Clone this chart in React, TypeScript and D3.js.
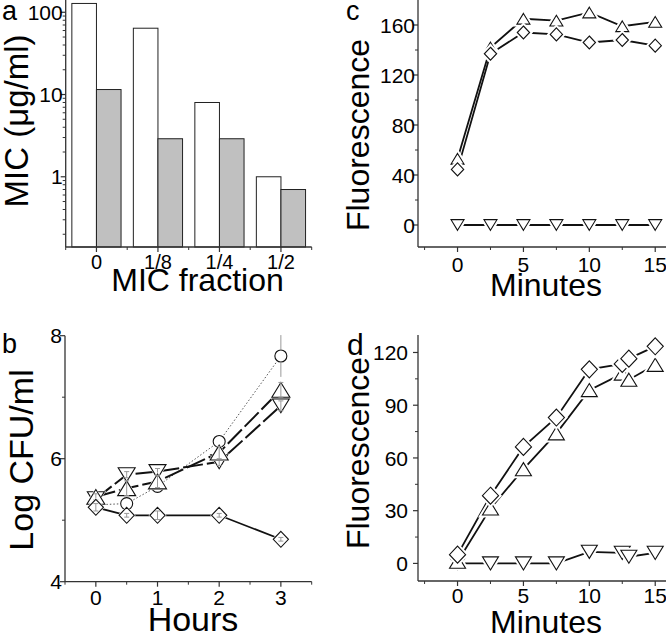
import React from "react";
import * as d3 from "d3";

// ---------- Panel a: MIC bars (log scale) ----------
const aCategories = ["0", "1/8", "1/4", "1/2"];
const aWhite = [128, 64, 8, 1];
const aGray = [11.5, 2.9, 2.9, 0.7];
const aYTicks = [1, 10, 100];

// ---------- Panel b: Log CFU/ml vs hours ----------
const bHours = [0, 0.5, 1, 2, 3];
const bCircle = [5.25, 5.27, 5.55, 6.28, 7.67];
const bCircleErr = [0.04, 0.08, 0.05, 0.05, 0.34];
const bTriUp = [5.38, 5.52, 5.63, 6.1, 7.12];
const bTriUpErr = [0.05, 0.12, 0.1, 0.1, 0.12];
const bTriDown = [5.35, 5.74, 5.79, 5.95, 6.86];
const bTriDownErr = [0.03, 0.05, 0.05, 0.06, 0.08];
const bDiamond = [5.21, 5.08, 5.08, 5.08, 4.69];
const bDiamondErr = [0.06, 0.03, 0.07, 0.03, 0.03];
const bYTicks = [4, 6, 8];
const bXTicks = [0, 1, 2, 3];

// ---------- Panel c: Fluorescence vs minutes ----------
const cMinutes = [0, 2.5, 5, 7.5, 10, 12.5, 15];
const cTriUp = [53, 142, 165, 163.5, 170, 159, 162.5];
const cDiamond = [44.5, 137, 154, 152.5, 146, 148, 143.5];
const cTriDown = [0, 0, 0, 0, 0, 0, 0];
const cYTicks = [0, 40, 80, 120, 160];

// ---------- Panel d: Fluorescence vs minutes ----------
const dMinutes = [0, 2.5, 5, 7.5, 10, 12.5, 13, 15];
const dDiamond = [5, 38.5, 66.3, 83, 110.4, 113.5, 116.5, 123.5];
const dTriUp = [1, 31.3, 53.6, 74, 98.6, 108, 104.5, 113];
const dTriDown = [0, 0, 0, 0, 6.6, 6, 3.8, 6];
const dYTicks = [0, 30, 60, 90, 120];

const minuteTicks = [0, 5, 10, 15];

const FONT = "'Liberation Sans', Arial, Helvetica, sans-serif";
const AXIS = "#333";

type Shape = "up" | "down" | "diamond" | "circle";

function markerPath(shape: Shape, s: number): string {
  const h = s * 0.82;
  if (shape === "up") return `M0,${-h / 2}L${s / 2},${h / 2}L${-s / 2},${h / 2}Z`;
  if (shape === "down") return `M0,${h / 2}L${s / 2},${-h / 2}L${-s / 2},${-h / 2}Z`;
  if (shape === "diamond") {
    const w = s * 0.95;
    return `M0,${-s / 2}L${w / 2},0L0,${s / 2}L${-w / 2},0Z`;
  }
  const r = s / 2;
  return `M${r},0A${r},${r} 0 1,1 ${-r},0A${r},${r} 0 1,1 ${r},0Z`;
}

function Markers({ xs, ys, x, y, shape, size, halo, k }: any) {
  return (
    <g>
      {xs.map((xv: number, i: number) => (
        <g key={`${k}-${i}`} transform={`translate(${x(xv)},${y(ys[i])})`}>
          {halo > 0 && <path d={markerPath(shape, size)} fill="white" stroke="white" strokeWidth={halo} />}
          <path d={markerPath(shape, size)} fill="white" stroke="#111" strokeWidth={1.1} />
        </g>
      ))}
    </g>
  );
}

function Line({ xs, ys, x, y, width, dash, color }: any) {
  const gen = d3
    .line<number>()
    .x((_, i) => x(xs[i]))
    .y((v) => y(v));
  return <path d={gen(ys) || ""} fill="none" stroke={color || "#111"} strokeWidth={width} strokeDasharray={dash} />;
}

function YAxis({ y, x0, y0, y1, major, minor, fmt, labelGap }: any) {
  return (
    <g>
      <line x1={x0} x2={x0} y1={y0} y2={y1} stroke={AXIS} strokeWidth={1.3} />
      {minor.map((t: number, i: number) => (
        <line key={"mi" + i} x1={x0 - 3} x2={x0} y1={y(t)} y2={y(t)} stroke={AXIS} strokeWidth={1} />
      ))}
      {major.map((t: number, i: number) => (
        <g key={"ma" + i}>
          <line x1={x0 - 5} x2={x0} y1={y(t)} y2={y(t)} stroke={AXIS} strokeWidth={1.2} />
          <text x={x0 - labelGap} y={y(t)} dy="0.36em" textAnchor="end" fontSize={21} fontFamily={FONT}>
            {fmt(t)}
          </text>
        </g>
      ))}
    </g>
  );
}

function XAxis({ x, y0, x0, x1, major, minor, labels, labelDy, fontSize }: any) {
  return (
    <g>
      <line x1={x0} x2={x1} y1={y0} y2={y0} stroke={AXIS} strokeWidth={1.3} />
      {minor.map((t: number, i: number) => (
        <line key={"mi" + i} x1={x(t)} x2={x(t)} y1={y0} y2={y0 + 3} stroke={AXIS} strokeWidth={1} />
      ))}
      {major.map((t: number, i: number) => (
        <g key={"ma" + i}>
          <line x1={x(t)} x2={x(t)} y1={y0} y2={y0 + 5} stroke={AXIS} strokeWidth={1.2} />
          <text x={x(t)} y={y0 + labelDy} textAnchor="middle" fontSize={fontSize || 21} fontFamily={FONT}>
            {labels[i]}
          </text>
        </g>
      ))}
    </g>
  );
}

function ErrorBars({ xs, ys, errs, x, y, cap }: any) {
  return (
    <g stroke="#999" strokeWidth={1}>
      {xs.map((xv: number, i: number) => {
        const cx = x(xv);
        const t = y(ys[i] + errs[i]);
        const b = y(ys[i] - errs[i]);
        return (
          <g key={i}>
            <line x1={cx} x2={cx} y1={t} y2={b} />
            <line x1={cx - cap} x2={cx + cap} y1={t} y2={t} />
            <line x1={cx - cap} x2={cx + cap} y1={b} y2={b} />
          </g>
        );
      })}
    </g>
  );
}

function PanelA() {
  const x = d3.scaleLinear().domain([0.5, 4.5]).range([65.7, 311.7]);
  const y = d3.scaleLog().domain([0.14, 141]).range([247, 0]);
  const minor: number[] = [];
  [0.1, 1, 10].forEach((dec) => {
    for (let m = 2; m <= 9; m++) {
      const v = m * dec;
      if (v >= 0.14 && v <= 141) minor.push(v);
    }
  });
  const bw = 0.4;
  return (
    <g>
      {aWhite.map((v, i) => (
        <rect
          key={"w" + i}
          x={x(i + 1 - bw)}
          y={y(v)}
          width={x(i + 1) - x(i + 1 - bw)}
          height={y(0.14) - y(v)}
          fill="white"
          stroke="#222"
          strokeWidth={1}
        />
      ))}
      {aGray.map((v, i) => (
        <rect
          key={"g" + i}
          x={x(i + 1)}
          y={y(v)}
          width={x(i + 1 + bw) - x(i + 1)}
          height={y(0.14) - y(v)}
          fill="#c0c0c0"
          stroke="#222"
          strokeWidth={1}
        />
      ))}
      <YAxis y={y} x0={65.7} y0={0} y1={247} major={aYTicks} minor={minor} fmt={(t: number) => String(t)} labelGap={3} />
      <XAxis
        x={x}
        y0={247}
        x0={65.7}
        x1={311.7}
        major={[1, 2, 3, 4]}
        minor={[0.5, 1.5, 2.5, 3.5, 4.5]}
        labels={aCategories}
        labelDy={22}
        fontSize={20}
      />
      <text x={2} y={20} fontSize={27} fontFamily={FONT}>a</text>
      <text transform="translate(28,121) rotate(-90)" textAnchor="middle" fontSize={33} fontFamily={FONT}>
        MIC (μg/ml)
      </text>
      <text x={197.5} y={291} textAnchor="middle" fontSize={32} fontFamily={FONT}>
        MIC fraction
      </text>
    </g>
  );
}

function PanelB() {
  const x = d3.scaleLinear().domain([-0.5, 3.5]).range([65, 311.7]);
  const y = d3.scaleLinear().domain([4, 8]).range([581.7, 335.7]);
  return (
    <g>
      <YAxis y={y} x0={65} y0={335.7} y1={581.7} major={bYTicks} minor={[5, 7]} fmt={(t: number) => String(t)} labelGap={3} />
      <XAxis
        x={x}
        y0={581.7}
        x0={65}
        x1={311.7}
        major={bXTicks}
        minor={[-0.5, 0.5, 1.5, 2.5, 3.5]}
        labels={bXTicks.map(String)}
        labelDy={23}
      />
      <Line xs={bHours} ys={bCircle} x={x} y={y} width={1} dash="1.5,2" color="#555" />
      <Line xs={bHours} ys={bTriDown} x={x} y={y} width={2} dash="20,4" />
      <Line xs={bHours} ys={bTriUp} x={x} y={y} width={2} dash="20,4" />
      <Line xs={bHours} ys={bDiamond} x={x} y={y} width={1.8} />
      <ErrorBars xs={bHours} ys={bCircle} errs={bCircleErr} x={x} y={y} cap={0} />
      <Markers xs={bHours} ys={bTriDown} x={x} y={y} shape="down" size={17} halo={2} k="bd" />
      <ErrorBars xs={bHours} ys={bTriDown} errs={bTriDownErr} x={x} y={y} cap={2.5} />
      <Markers xs={bHours} ys={bCircle} x={x} y={y} shape="circle" size={12} halo={2} k="bc" />
      <Markers xs={bHours} ys={bTriUp} x={x} y={y} shape="up" size={18} halo={2} k="bu" />
      <ErrorBars xs={bHours} ys={bTriUp} errs={bTriUpErr} x={x} y={y} cap={2.5} />
      <Markers xs={bHours} ys={bDiamond} x={x} y={y} shape="diamond" size={16} halo={2} k="bdi" />
      <ErrorBars xs={bHours} ys={bDiamond} errs={bDiamondErr} x={x} y={y} cap={2.5} />
      <text x={2} y={353} fontSize={27} fontFamily={FONT}>b</text>
      <text transform="translate(33,460) rotate(-90)" textAnchor="middle" fontSize={34} fontFamily={FONT}>
        Log CFU/ml
      </text>
      <text x={193} y={631} textAnchor="middle" fontSize={34} fontFamily={FONT}>
        Hours
      </text>
    </g>
  );
}

function PanelC() {
  const x = d3.scaleLinear().domain([-3, 16]).range([418, 668.4]);
  const y = d3.scaleLinear().domain([-17.6, 180]).range([247, 0]);
  return (
    <g>
      <YAxis y={y} x0={418} y0={0} y1={247} major={cYTicks} minor={[20, 60, 100, 140]} fmt={(t: number) => String(t)} labelGap={3} />
      <XAxis
        x={x}
        y0={247}
        x0={418}
        x1={666}
        major={minuteTicks}
        minor={[-2.5, 2.5, 7.5, 12.5]}
        labels={minuteTicks.map(String)}
        labelDy={25}
      />
      <Line xs={cMinutes} ys={cTriDown} x={x} y={y} width={1.8} />
      <Line xs={cMinutes} ys={cTriUp} x={x} y={y} width={1.8} />
      <Line xs={cMinutes} ys={cDiamond} x={x} y={y} width={1.8} />
      <Markers xs={cMinutes} ys={cTriDown} x={x} y={y} shape="down" size={13} halo={5} k="cd" />
      <Markers xs={cMinutes} ys={cTriUp} x={x} y={y} shape="up" size={13} halo={5} k="cu" />
      <Markers xs={cMinutes} ys={cDiamond} x={x} y={y} shape="diamond" size={13} halo={5} k="cdi" />
      <text x={346} y={20} fontSize={27} fontFamily={FONT}>c</text>
      <text transform="translate(369,135) rotate(-90)" textAnchor="middle" fontSize={32} fontFamily={FONT}>
        Fluorescence
      </text>
      <text x={546} y={296} textAnchor="middle" fontSize={32} fontFamily={FONT}>
        Minutes
      </text>
    </g>
  );
}

function PanelD() {
  const x = d3.scaleLinear().domain([-3, 16]).range([418, 668.4]);
  const y = d3.scaleLinear().domain([-10, 130]).range([581, 334.9]);
  return (
    <g>
      <YAxis y={y} x0={418} y0={334.9} y1={581} major={dYTicks} minor={[15, 45, 75, 105]} fmt={(t: number) => String(t)} labelGap={10} />
      <XAxis
        x={x}
        y0={581}
        x0={418}
        x1={666}
        major={minuteTicks}
        minor={[-2.5, 2.5, 7.5, 12.5]}
        labels={minuteTicks.map(String)}
        labelDy={22}
      />
      <Line xs={dMinutes} ys={dTriDown} x={x} y={y} width={1.8} />
      <Line xs={dMinutes} ys={dTriUp} x={x} y={y} width={1.8} />
      <Line xs={dMinutes} ys={dDiamond} x={x} y={y} width={1.8} />
      <Markers xs={dMinutes} ys={dTriDown} x={x} y={y} shape="down" size={16} halo={5} k="dd" />
      <Markers xs={dMinutes} ys={dTriUp} x={x} y={y} shape="up" size={16} halo={5} k="du" />
      <Markers xs={dMinutes} ys={dDiamond} x={x} y={y} shape="diamond" size={17} halo={5} k="ddi" />
      <text x={347} y={355} fontSize={30} fontFamily={FONT}>d</text>
      <text transform="translate(369,453) rotate(-90)" textAnchor="middle" fontSize={32} fontFamily={FONT}>
        Fluorescence
      </text>
      <text x={546} y={633} textAnchor="middle" fontSize={32} fontFamily={FONT}>
        Minutes
      </text>
    </g>
  );
}

export default function App() {
  return (
    <svg
      width={666}
      height={638}
      style={{ position: "absolute", left: 0, top: 0, background: "white" }}
      xmlns="http://www.w3.org/2000/svg"
    >
      <rect x={0} y={0} width={666} height={638} fill="white" />
      <PanelA />
      <PanelB />
      <PanelC />
      <PanelD />
    </svg>
  );
}
